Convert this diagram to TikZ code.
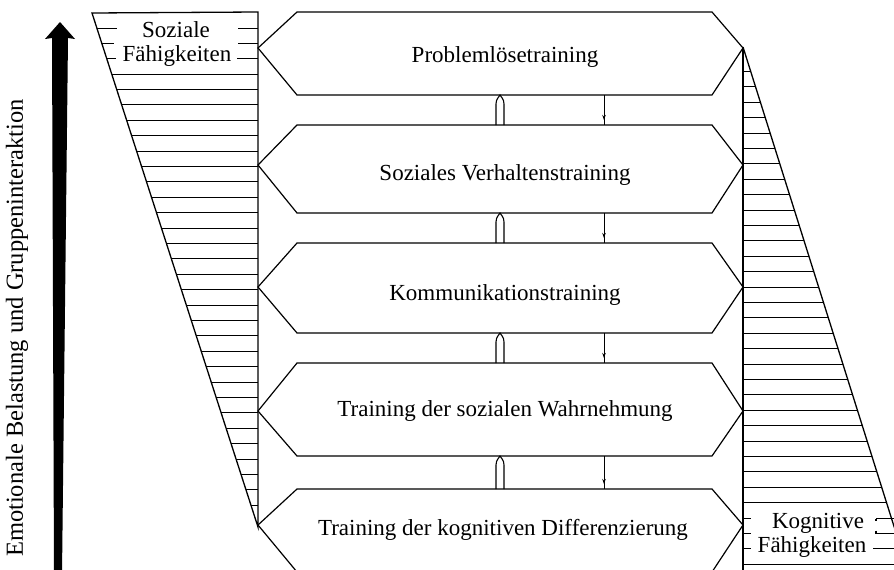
\documentclass[tikz,border=0pt]{standalone}
\usepackage{fontspec}
\setmainfont{Liberation Serif}
\usetikzlibrary{arrows.meta}
\begin{document}
\begin{tikzpicture}[x=1pt,y=-1pt,line width=1.2pt,line join=miter,
  lbl/.style={font=\fontsize{23}{24}\selectfont,inner sep=0pt},
  vlbl/.style={font=\fontsize{24.5}{26}\selectfont,inner sep=0pt},
  hexa/.style={draw,line width=1.2pt},
  ladder/.style={line width=1.3pt},
  uparr/.style={line width=1.1pt},
  downarr/.style={line width=0.9pt,-{Stealth[length=5pt,width=3.5pt]}}]
\useasboundingbox (0,0) rectangle (894,570);
\clip (0,0) rectangle (894,570);

% big black arrow
\fill (60,22) -- (75,39) -- (68,38) -- (62,575) -- (54,575) -- (52,38) -- (45,39) -- cycle;
\node[vlbl,rotate=90,anchor=base] (emo) at (23,328) {Emotionale Belastung und Gruppeninteraktion};

% left ladder (Soziale Faehigkeiten)
\draw[ladder] (92,13) -- (258,12) -- (258,527) -- cycle;
\foreach \k in {3,...,31}{
  \pgfmathsetmacro\yy{floor(28+15.4*\k)+0.5}
  \pgfmathsetmacro\xx{92+0.323*(\yy-13)}
  \draw[ladder] (\xx,\yy) -- (258,\yy);
}
\draw[ladder] (97,28.5) -- (117,28.5) (238,28.5) -- (258,28.5);
\draw[ladder] (102,43.5) -- (114,43.5) (238,43.5) -- (258,43.5);
\draw[ladder] (107,58.5) -- (116,58.5) (237,58.5) -- (258,58.5);
\node[lbl,anchor=base] (soz1) at (176,37) {Soziale};
\node[lbl,anchor=base] (soz2) at (177,61) {Fähigkeiten};

% right ladder (Kognitive Faehigkeiten)
\draw[ladder] (743,47) -- (917.2,600);
\draw[ladder] (743,47) -- (743,600);
\foreach \k in {0,...,28,32}{
  \pgfmathsetmacro\yy{floor(71.5+15.4*\k)+0.5}
  \pgfmathsetmacro\xx{743+0.315*(\yy-47)}
  \draw[ladder] (743,\yy) -- (\xx,\yy);
}
\draw[ladder] (743,518.5) -- (751,518.5) (876,518.5) -- (876,521) (876,518.5) -- (894,518.5);
\draw[ladder] (743,533.5) -- (751,533.5) (876,530.5) -- (876,533.5) -- (894,533.5);
\draw[ladder] (743,548.5) -- (751,548.5) (873,548.5) -- (894,548.5);
\node[lbl,anchor=base] (kog1) at (818,528) {Kognitive};
\node[lbl,anchor=base] (kog2) at (812,552) {Fähigkeiten};

% hexagons
\foreach \t/\v/\b in {12/48/95,125/165/213,243/287/333,363/411/456,489/525/572}{
  \draw[hexa] (297,\t) -- (712,\t) -- (743,\v) -- (712,\b) -- (297,\b) -- (258,\v) -- cycle;
}
\node[lbl,anchor=base] (h1) at (505,62) {Problemlösetraining};
\node[lbl,anchor=base] (h2) at (505,180) {Soziales Verhaltenstraining};
\node[lbl,anchor=base] (h3) at (505,300) {Kommunikationstraining};
\node[lbl,anchor=base] (h4) at (505,416) {Training der sozialen Wahrnehmung};
\node[lbl,anchor=base] (h5) at (503,535) {Training der kognitiven Differenzierung};

% arrows between the stages
\foreach \t/\b [count=\i] in {95/125,213/243,333/363,456/489}{
  \coordinate (up\i b) at (500,\b);
  \coordinate (up\i t) at (500,\t);
  \draw[uparr] ([xshift=-4pt]up\i b) -- ([xshift=-4pt,yshift=-9pt]up\i t)
     .. controls ([xshift=-4pt,yshift=-4pt]up\i t) and ([xshift=-1pt,yshift=-2pt]up\i t) .. (up\i t)
     .. controls ([xshift=1pt,yshift=-2pt]up\i t) and ([xshift=4pt,yshift=-4pt]up\i t) .. ([xshift=4pt,yshift=-9pt]up\i t)
     -- ([xshift=4pt]up\i b);
  \coordinate (dn\i t) at (604,\t);
  \coordinate (dn\i b) at (604,\b);
  \draw[downarr] (dn\i t) -- ([yshift=5pt]dn\i b);
  \draw[line width=0.9pt] ([yshift=7pt]dn\i b) -- (dn\i b);
}
\end{tikzpicture}
\end{document}
